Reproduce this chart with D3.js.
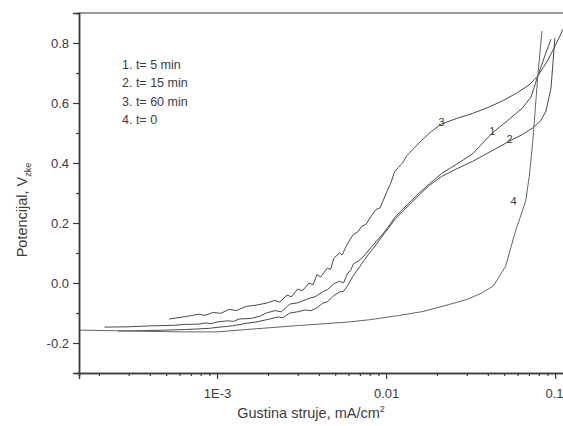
<!DOCTYPE html>
<html><head><meta charset="utf-8">
<script src="https://cdn.jsdelivr.net/npm/d3@7"></script>
<style>
html,body{margin:0;padding:0;background:#fff;}
svg{display:block;font-family:"Liberation Sans",Arial,sans-serif;}
</style></head>
<body><svg id="c" width="563" height="426"></svg>
<script>
// ---- data: [current density mA/cm2, potential V] ----
const seriesNames = ["1. t= 5 min", "2. t= 15 min", "3. t= 60 min", "4. t= 0"];
const curveLabels = ["1", "2", "3", "4"];
const curve1 = [[2.16e-4,-0.147],[3e-4,-0.146],[4e-4,-0.143],[5.5e-4,-0.141],[6.5e-4,-0.138],[7.8e-4,-0.137],[8.6e-4,-0.133],[9.2e-4,-0.136],[1.0e-3,-0.13],[1.15e-3,-0.126],[1.25e-3,-0.128],[1.35e-3,-0.12],[1.6e-3,-0.118],[1.8e-3,-0.11],[1.96e-3,-0.1],[2.2e-3,-0.092],[2.4e-3,-0.096],[2.7e-3,-0.07],[3.0e-3,-0.066],[3.2e-3,-0.06],[3.55e-3,-0.05],[3.8e-3,-0.046],[4.2e-3,-0.03],[4.5e-3,-0.022],[4.9e-3,-0.003],[5.3e-3,0.006],[5.6e-3,0.0],[5.9e-3,0.03],[6.2e-3,0.045],[6.4e-3,0.063],[6.9e-3,0.075],[7.4e-3,0.09],[8.1e-3,0.117],[8.8e-3,0.14],[9.6e-3,0.165],[0.0104,0.19],[0.0112,0.217],[0.0125,0.245],[0.014,0.272],[0.0155,0.297],[0.018,0.33],[0.0213,0.365],[0.026,0.395],[0.0324,0.43],[0.0425,0.5],[0.052,0.54],[0.064,0.583],[0.072,0.62],[0.079,0.69],[0.086,0.75],[0.0946,0.813]];
const curve2 = [[2.6e-4,-0.16],[3.5e-4,-0.159],[5e-4,-0.157],[6.5e-4,-0.155],[7.8e-4,-0.153],[9e-4,-0.151],[1.0e-3,-0.148],[1.23e-3,-0.143],[1.5e-3,-0.134],[1.7e-3,-0.13],[2.05e-3,-0.12],[2.3e-3,-0.113],[2.45e-3,-0.116],[2.7e-3,-0.1],[3.0e-3,-0.096],[3.3e-3,-0.09],[3.6e-3,-0.092],[3.9e-3,-0.083],[4.2e-3,-0.068],[4.5e-3,-0.062],[4.9e-3,-0.043],[5.3e-3,-0.03],[5.6e-3,-0.028],[5.9e-3,-0.01],[6.4e-3,0.025],[6.9e-3,0.05],[7.4e-3,0.075],[8.1e-3,0.105],[8.8e-3,0.13],[9.6e-3,0.16],[0.0104,0.185],[0.0112,0.21],[0.0125,0.238],[0.014,0.265],[0.0155,0.29],[0.018,0.325],[0.0213,0.355],[0.026,0.38],[0.0324,0.405],[0.042,0.44],[0.0538,0.473],[0.064,0.495],[0.0738,0.517],[0.082,0.54],[0.0883,0.573],[0.0946,0.65],[0.0973,0.74],[0.0997,0.817]];
const curve3 = [[5.2e-4,-0.12],[6.5e-4,-0.112],[7.8e-4,-0.104],[8.5e-4,-0.108],[9.5e-4,-0.098],[1.05e-3,-0.101],[1.18e-3,-0.088],[1.3e-3,-0.092],[1.49e-3,-0.078],[1.7e-3,-0.074],[1.96e-3,-0.067],[2.2e-3,-0.058],[2.35e-3,-0.064],[2.59e-3,-0.04],[2.75e-3,-0.046],[3.0e-3,-0.02],[3.2e-3,-0.026],[3.5e-3,0.0],[3.7e-3,-0.006],[3.9e-3,0.028],[4.1e-3,0.02],[4.5e-3,0.05],[4.7e-3,0.045],[4.9e-3,0.082],[5.3e-3,0.1],[5.5e-3,0.094],[5.9e-3,0.13],[6.4e-3,0.162],[6.8e-3,0.17],[7.2e-3,0.19],[7.6e-3,0.195],[8.1e-3,0.22],[8.7e-3,0.245],[9.2e-3,0.25],[9.7e-3,0.28],[0.0102,0.31],[0.0107,0.335],[0.0112,0.37],[0.0118,0.385],[0.0125,0.4],[0.0133,0.425],[0.0141,0.44],[0.0162,0.475],[0.0185,0.505],[0.0213,0.53],[0.026,0.548],[0.0324,0.565],[0.04,0.585],[0.0489,0.607],[0.06,0.635],[0.07,0.66],[0.079,0.69],[0.09,0.74],[0.1,0.79],[0.1117,0.847]];
const curve4 = [[1.53e-4,-0.157],[3e-4,-0.16],[6e-4,-0.163],[1e-3,-0.163],[1.5e-3,-0.155],[3e-3,-0.142],[6e-3,-0.13],[0.0081,-0.122],[0.012,-0.108],[0.0165,-0.095],[0.0235,-0.072],[0.03,-0.055],[0.037,-0.033],[0.043,-0.01],[0.047,0.023],[0.051,0.057],[0.0583,0.173],[0.067,0.273],[0.0705,0.36],[0.0738,0.473],[0.079,0.69],[0.0836,0.84]];
const curves = [curve1, curve2, curve3, curve4];
const labelPos = [[0.0425,0.5],[0.0538,0.473],[0.0213,0.53],[0.0583,0.25]];
const xMajorTicks = [1e-3, 1e-2, 1e-1];
const xTickLabels = ["1E-3", "0.01", "0.1"];
const xMinorTicks = [2e-4,3e-4,4e-4,5e-4,6e-4,7e-4,8e-4,9e-4,2e-3,3e-3,4e-3,5e-3,6e-3,7e-3,8e-3,9e-3,0.02,0.03,0.04,0.05,0.06,0.07,0.08,0.09];
const yMajorTicks = [-0.2, 0.0, 0.2, 0.4, 0.6, 0.8];
const yMinorTicks = [-0.1, 0.1, 0.3, 0.5, 0.7];
const xDomain = [1.525e-4, 0.116];
const yDomain = [-0.3, 0.9];

// ---- chart ----
const svg = d3.select("#c");
const L = 79, R = 566, T = 13, B = 373;
const x = d3.scaleLog().domain(xDomain).range([L, R]);
const y = d3.scaleLinear().domain(yDomain).range([B, T]);
const ink = "#3c3c3c";

// top frame
svg.append("line").attr("x1", L).attr("x2", R).attr("y1", T).attr("y2", T)
  .attr("stroke", "#777").attr("stroke-width", 1.6);

// curves
const line = d3.line().x(d => x(d[0])).y(d => y(d[1]));
const g = svg.append("g");
curves.forEach((c, i) => {
  g.append("path").attr("d", line(c)).attr("fill", "none")
    .attr("stroke", i === 3 ? "#666" : "#4a4a4a").attr("stroke-width", 1)
    .attr("stroke-linejoin", "round");
});
curveLabels.forEach((t, i) => {
  const p = labelPos[i];
  g.append("text").attr("x", x(p[0]) + (i === 3 ? -5 : -3)).attr("y", y(p[1]) + (i === 3 ? -3 : 2))
    .attr("font-size", 11).attr("fill", ink).text(t);
});

// x axis
const xMinor = d3.axisBottom(x).tickValues(xMinorTicks).tickSize(3).tickFormat("");
const xMajor = d3.axisBottom(x).tickValues(xMajorTicks).tickSize(6)
  .tickFormat((d, i) => xTickLabels[i]).tickPadding(10);
[xMinor, xMajor].forEach((a, k) => {
  const ga = svg.append("g").attr("transform", `translate(0,${B})`).call(a);
  ga.select(".domain").attr("stroke", ink).attr("stroke-width", 1.5);
  ga.selectAll(".tick line").attr("stroke", ink).attr("stroke-width", 1.2);
  ga.selectAll("text").attr("font-size", 13).attr("fill", ink)
    .attr("font-family", '"Liberation Sans",Arial,sans-serif');
  if (k === 1) ga.selectAll("text").filter((d, i) => i === 2).attr("text-anchor", "end").attr("x", 8);
});

// y axis
const yMinor = d3.axisLeft(y).tickValues(yMinorTicks).tickSize(3).tickFormat("");
const yMajor = d3.axisLeft(y).tickValues(yMajorTicks).tickSize(6)
  .tickFormat(d => d3.format(".1f")(d).replace("\u2212", "-")).tickPadding(4);
[yMinor, yMajor].forEach(a => {
  const ga = svg.append("g").attr("transform", `translate(${L},0)`).call(a);
  ga.select(".domain").attr("stroke", ink).attr("stroke-width", 1.5);
  ga.selectAll(".tick line").attr("stroke", ink).attr("stroke-width", 1.2);
  ga.selectAll("text").attr("font-size", 13).attr("fill", ink)
    .attr("font-family", '"Liberation Sans",Arial,sans-serif');
});

// axis titles
const xt = svg.append("text").attr("x", 311).attr("y", 418).attr("text-anchor", "middle")
  .attr("font-size", 14.5).attr("fill", ink);
xt.append("tspan").text("Gustina struje, mA/cm");
xt.append("tspan").attr("font-size", 9).attr("dy", -6).text("2");

const yt = svg.append("text").attr("transform", "translate(27,210) rotate(-90)")
  .attr("text-anchor", "middle").attr("font-size", 14.5).attr("fill", ink);
yt.append("tspan").text("Potencijal, V");
yt.append("tspan").attr("font-size", 9).attr("dy", 4).text("zke");

// legend
seriesNames.forEach((s, i) => {
  svg.append("text").attr("x", 122).attr("y", 69 + i * 18.3)
    .attr("font-size", 12.5).attr("fill", ink).text(s);
});
</script></body></html>
